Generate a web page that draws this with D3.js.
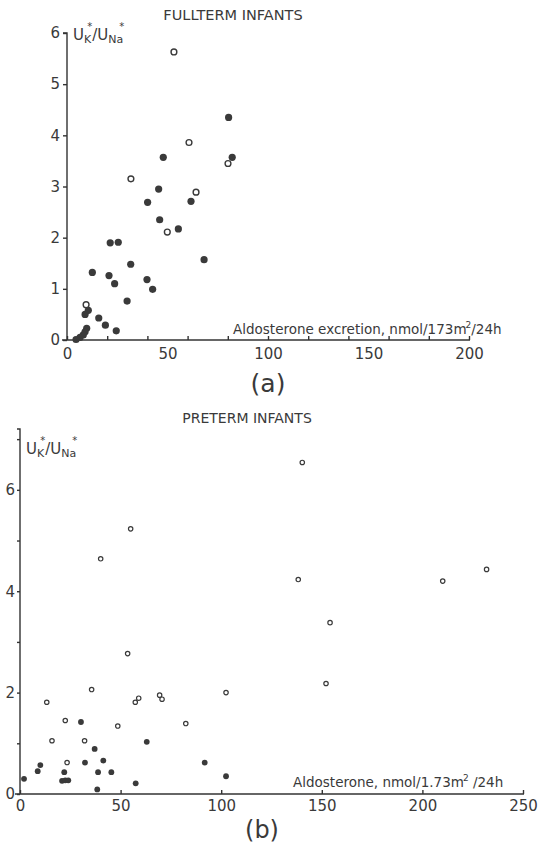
<!DOCTYPE html>
<html>
<head>
<meta charset="utf-8">
<script src="https://cdn.jsdelivr.net/npm/d3@7"></script>
<style>
  body { margin: 0; background: #fff; }
  svg { display: block; }
  text { font-family: "DejaVu Sans", sans-serif; fill: #3a3a3a; }
</style>
</head>
<body>
<div id="viz"></div>
<script>
// (a) fullterm infants: [aldosterone, UK/UNa]
var fullFilled = [[80.4,4.35],[47.9,3.57],[82.2,3.57],[45.6,2.95],[40.1,2.69],[61.7,2.71],[46.1,2.35],
  [55.4,2.17],[21.5,1.90],[25.5,1.91],[68.2,1.57],[31.7,1.48],[12.6,1.32],[20.9,1.26],[23.7,1.10],
  [39.8,1.18],[42.6,0.99],[29.9,0.76],[10.6,0.58],[9.0,0.50],[15.8,0.43],[19.1,0.29],[24.5,0.18],
  [9.8,0.23],[9.0,0.16],[8.1,0.10],[6.5,0.05],[4.5,0.01]];
var fullOpen = [[53.2,5.63],[60.7,3.86],[80.1,3.45],[31.8,3.15],[64.2,2.89],[49.9,2.11],[9.5,0.69]];

// (b) preterm infants
var preFilled = [[30.3,1.42],[63.0,1.03],[37.1,0.89],[41.4,0.66],[32.3,0.62],[91.8,0.62],[10.1,0.57],
  [8.8,0.45],[22.0,0.43],[38.8,0.43],[45.4,0.43],[2.0,0.30],[20.9,0.26],[22.5,0.27],[24.0,0.27],
  [102.4,0.35],[57.5,0.21],[38.4,0.09]];
var preOpen = [[53.5,2.77],[35.6,2.06],[13.3,1.81],[57.3,1.81],[59.0,1.89],[69.4,1.95],[70.6,1.87],
  [102.4,2.0],[22.5,1.45],[48.6,1.34],[82.4,1.39],[15.9,1.05],[32.1,1.05],[23.4,0.62],[55,5.23],
  [40.1,4.64],[140.3,6.54],[138.3,4.23],[210.1,4.20],[231.9,4.43],[154.1,3.38],[152.1,2.18]];

var fullXTicks = [0, 20, 40, 60, 80, 100, 120, 140, 160, 180, 200];
var fullXLabels = [0, 50, 100, 150, 200];
var fullYTicks = [0, 1, 2, 3, 4, 5, 6];
var fullYLabels = [0, 1, 2, 3, 4, 5, 6];
var preXTicks = [0, 50, 100, 150, 200, 250];
var preXLabels = [0, 50, 100, 150, 200, 250];
var preYTicks = [0, 1, 2, 3, 4, 5, 6, 7];
var preYLabels = [0, 2, 4, 6];

var width = 542, ink = "#333";

// each panel gets its own svg, stacked: (a) 0-400, (b) 400-845
var svgA = d3.select('#viz').append('svg').attr('width', width).attr('height', 400);
var svgB = d3.select('#viz').append('svg').attr('width', width).attr('height', 445);

function styleAxis(g) {
  g.selectAll("path, line").attr("stroke", ink).attr("stroke-width", 1.4).attr("fill", "none");
  g.selectAll("text").style("font-size", "15px").attr("fill", "#3a3a3a");
}

function ratioLabel(g, x, y) {
  var t = g.append("text").attr("x", x).attr("y", y).style("font-size", "15px");
  t.append("tspan").text("U");
  t.append("tspan").attr("dy", 3).style("font-size", "11px").text("K");
  t.append("tspan").attr("dy", -13).attr("dx", -4).style("font-size", "10px").text("*");
  t.append("tspan").attr("dy", 10).text("/U");
  t.append("tspan").attr("dy", 3).style("font-size", "11px").text("Na");
  t.append("tspan").attr("dy", -13).attr("dx", -4).style("font-size", "10px").text("*");
}

// one panel: axes with upward x ticks, left y ticks, filled + open dots
function panel(svg, p) {
  var g = svg.append("g");
  var x = p.x, y = p.y;
  var x0 = x.range()[0], y0 = y.range()[0];

  g.append("g")
    .attr("transform", "translate(0," + y0 + ")")
    .call(d3.axisBottom(x).tickValues(p.xTicks).tickSize(-4).tickSizeOuter(0).tickFormat(""))
    .call(a => a.select(".domain").attr("d", "M" + (x0 - 5) + ",0H" + (x.range()[1] + 1)))
    .call(styleAxis);
  g.append("g")
    .attr("transform", "translate(0," + y0 + ")")
    .call(d3.axisBottom(x).tickValues(p.xLabels).tickSize(0).tickPadding(p.xPad))
    .call(a => a.select(".domain").remove())
    .call(styleAxis);
  g.append("g")
    .attr("transform", "translate(" + x0 + ",0)")
    .call(d3.axisLeft(y).tickValues(p.yTicks).tickSize(p.yTick).tickSizeOuter(0).tickPadding(p.yPad)
      .tickFormat(d => p.yLabels.includes(d) ? d3.format("d")(d) : ""))
    .call(a => a.select(".domain").attr("d", "M" + (-p.yTick) + "," + y.range()[1] + "H0V" + y0))
    .call(styleAxis);

  g.append("g").selectAll("circle").data(p.filled).join("circle")
    .attr("cx", d => x(d[0])).attr("cy", d => y(d[1]))
    .attr("r", p.r).attr("fill", "#3a3a3a");
  g.append("g").selectAll("circle").data(p.open).join("circle")
    .attr("cx", d => x(d[0])).attr("cy", d => y(d[1]))
    .attr("r", p.r - 0.7).attr("fill", "#fff").attr("stroke", "#3a3a3a").attr("stroke-width", p.sw);
  return g;
}

// ---------- panel (a) ----------
var xa = d3.scaleLinear().domain([0, 200]).range([67, 469]);
var ya = d3.scaleLinear().domain([0, 6]).range([340, 33]);
var ga = panel(svgA, {x: xa, y: ya, xTicks: fullXTicks, xLabels: fullXLabels, yTicks: fullYTicks,
  yLabels: fullYLabels, xPad: 8, yTick: 4, yPad: 3, filled: fullFilled, open: fullOpen, r: 3.6, sw: 1.4});

ga.append("text").attr("x", 233).attr("y", 20).attr("text-anchor", "middle")
  .style("font-size", "14.5px").text("FULLTERM INFANTS");
ratioLabel(ga, 73, 40);

var xla = ga.append("text").attr("x", 233).attr("y", 334).style("font-size", "13.5px");
xla.append("tspan").text("Aldosterone excretion, nmol/173m");
xla.append("tspan").attr("dy", -6).attr("dx", -1).style("font-size", "9px").text("2");
xla.append("tspan").attr("dy", 6).text("/24h");

ga.append("text").attr("x", 268).attr("y", 392).attr("text-anchor", "middle")
  .style("font-size", "25px").text("(a)");

// ---------- panel (b) ----------  (coordinates inside svgB start at page y = 400)
var xb = d3.scaleLinear().domain([0, 250]).range([20, 523]);
var yb = d3.scaleLinear().domain([0, 7.2]).range([394, 29]);
var gb = panel(svgB, {x: xb, y: yb, xTicks: preXTicks, xLabels: preXLabels, yTicks: preYTicks,
  yLabels: preYLabels, xPad: 6, yTick: 3, yPad: 2, filled: preFilled, open: preOpen, r: 2.9, sw: 1.2});

gb.append("text").attr("x", 247).attr("y", 23).attr("text-anchor", "middle")
  .style("font-size", "14px").text("PRETERM INFANTS");
ratioLabel(gb, 26, 54);

var xlb = gb.append("text").attr("x", 293).attr("y", 387).style("font-size", "13.5px");
xlb.append("tspan").text("Aldosterone, nmol/1.73m");
xlb.append("tspan").attr("dy", -6).attr("dx", -1).style("font-size", "9px").text("2");
xlb.append("tspan").attr("dy", 6).text(" /24h");

gb.append("text").attr("x", 262).attr("y", 438).attr("text-anchor", "middle")
  .style("font-size", "24px").text("(b)");
</script>
</body>
</html>
